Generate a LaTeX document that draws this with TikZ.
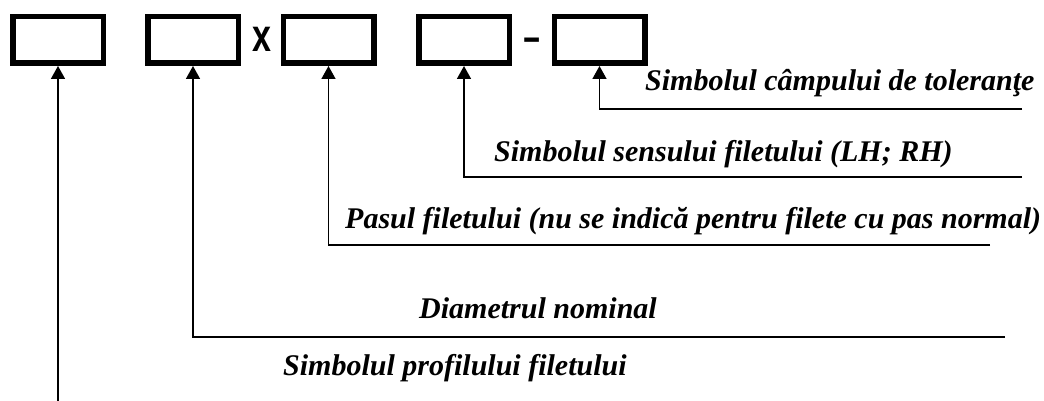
\documentclass[tikz,border=0pt]{standalone}
\usepackage{fontspec}
\setmainfont{Liberation Serif}
\setsansfont{Liberation Sans}
\usetikzlibrary{arrows.meta}
\begin{document}
\begin{tikzpicture}[x=1pt,y=-1pt,
  slot/.style={draw=black,line width=5.5pt,minimum width=90.5pt,minimum height=46.5pt,inner sep=0pt},
  conn/.style={line width=1.6pt,-{Triangle[width=14pt,length=13pt]}},
  lbl/.style={anchor=base west,inner sep=0pt,font=\fontsize{30}{36}\selectfont\bfseries\itshape},
  sym/.style={anchor=base,inner sep=0pt,font=\sffamily\bfseries}]
\useasboundingbox (0,0) rectangle (1044,401);
\node[slot] (b1) at (58,40) {};
\node[slot] (b2) at (193,40) {};
\node[slot] (b3) at (328.5,40) {};
\node[slot] (b4) at (464,40) {};
\node[slot] (b5) at (599.5,40) {};
\node[sym] (xs) at (262,52) {\scalebox{0.74}[1]{\fontsize{46}{46}\selectfont x}};
\node[sym] (ds) at (532,50) {\scalebox{1.6}[1]{\fontsize{36}{36}\selectfont -}};
\coordinate (e1) at (58,401);
\coordinate (e2) at (1005,337);
\coordinate (e3) at (990,245);
\coordinate (e4) at (1022,177);
\coordinate (e5) at (1022,109);
\draw[conn] (e1) -- (b1.south);
\draw[conn] (e2) -| (b2.south);
\draw[conn] (e3) -| (b3.south);
\draw[conn] (e4) -| (b4.south);
\draw[conn] (e5) -| (b5.south);
\node[lbl] (t5) at (645,91) {Simbolul câmpului de toleranţe};
\node[lbl] (t4) at (494,161) {Simbolul sensului filetului (LH; RH)};
\node[lbl] (t3) at (345,228) {Pasul filetului (nu se indică pentru filete cu pas normal)};
\node[lbl] (t2) at (419,318) {Diametrul nominal};
\node[lbl] (t1) at (283,375) {Simbolul profilului filetului};
\end{tikzpicture}
\end{document}
